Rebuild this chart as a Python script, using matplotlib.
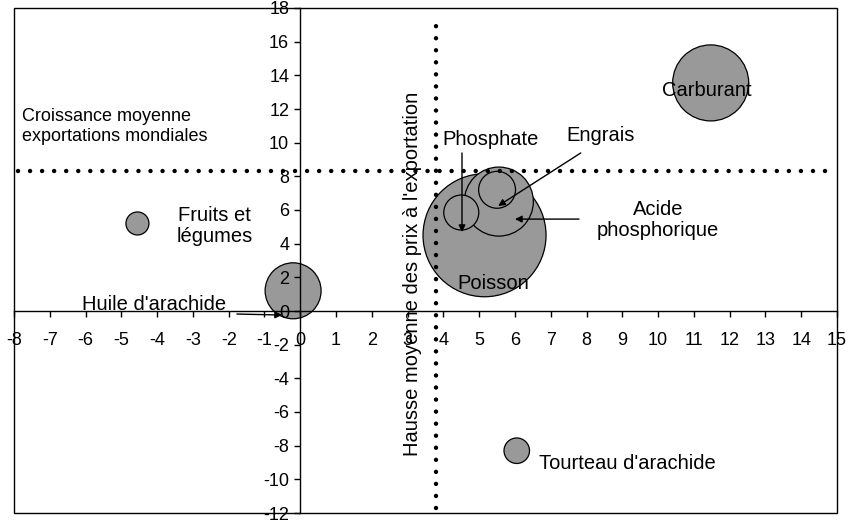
import matplotlib
matplotlib.use("Agg")
import matplotlib.pyplot as plt
from matplotlib.patches import Rectangle

plt.rcParams['font.family'] = ['Liberation Sans', 'DejaVu Sans']
plt.rcParams['axes.unicode_minus'] = False

# ---- data ----
products = ["Poisson", "Carburant", "Acide phosphorique", "Huile d'arachide",
            "Engrais", "Phosphate", "Tourteau d'arachide", "Fruits et légumes"]
export_growth = [5.15, 11.47, 5.55, -0.2, 5.5, 4.5, 6.05, -4.55]     # x
price_rise = [4.5, 13.55, 6.5, 1.2, 7.2, 5.85, -8.3, 5.2]            # y
bubble_size = [100, 38.2, 31.5, 20.7, 9.0, 8.1, 4.3, 3.5]

world_growth = 8.3      # croissance moyenne exportations mondiales
world_price = 3.8       # hausse moyenne des prix à l'exportation
hline_x = [-7.9, 14.9]
vline_y = [-11.7, 17.4]

x_ticks = list(range(-8, 16))
y_ticks = list(range(-12, 19, 2))

# labels: text, x, y
labels = [
    ("Carburant", 11.37, 13.07),
    ("Phosphate", 5.33, 10.16),
    ("Engrais", 8.40, 10.40),
    ("Acide\nphosphorique", 10.0, 5.41),
    ("Poisson", 5.39, 1.66),
    ("Fruits et\nlégumes", -2.39, 5.05),
    ("Huile d'arachide", -4.09, 0.36),
    ("Tourteau d'arachide", 9.13, -9.03),
]
# arrows: (x_from, y_from, x_to, y_to)
arrows = [
    (4.52, 9.39, 4.52, 4.69),
    (7.84, 9.39, 5.53, 6.24),
    (7.79, 5.46, 6.0, 5.46),
    (-1.77, -0.18, -0.51, -0.24),
]

# ---- figure ----
fig = plt.figure(figsize=(8.51, 5.2), dpi=100)
ax = fig.add_axes([14/851, 7/520, 823/851, 505/520])
ax.set_xlim(-8, 15)
ax.set_ylim(-12, 18)
ax.set_axisbelow(False)

scale = 78.43
sizes = [v * scale for v in bubble_size]
ax.scatter(export_growth, price_rise, s=sizes, c='#999999',
           edgecolors='black', linewidths=0.9, zorder=1.5)

dot = dict(color='black', lw=3.2, ls=(0, (0.01, 2.7)),
           dash_capstyle='round', zorder=3)
ax.plot(hline_x, [world_growth, world_growth], **dot)
ax.plot([world_price, world_price], vline_y, **dot)

for txt, x, y in labels:
    ax.text(x, y, txt, ha='center', va='center', fontsize=14.5,
            linespacing=1.1, zorder=5)

for x0, y0, x1, y1 in arrows:
    ax.annotate("", xy=(x1, y1), xytext=(x0, y0),
                arrowprops=dict(arrowstyle='-|>', color='black', lw=1,
                                mutation_scale=10, shrinkA=0, shrinkB=0),
                zorder=5)

ax.text(-7.77, 10.96, "Croissance moyenne\nexportations mondiales",
        ha='left', va='center', fontsize=13, linespacing=1.25)
ax.text(3.15, 2.2, "Hausse moyenne des prix à l'exportation",
        rotation=90, ha='center', va='center', fontsize=14.5, zorder=5)

# axes through origin
for s in ['top', 'right']:
    ax.spines[s].set_visible(False)
ax.spines['left'].set_position(('data', 0))
ax.spines['bottom'].set_position(('data', 0))
for s in ['left', 'bottom']:
    ax.spines[s].set_linewidth(1)
    ax.spines[s].set_zorder(2.5)
ax.add_patch(Rectangle((0, 0), 1, 1, transform=ax.transAxes, fill=False,
                       edgecolor='black', lw=1, clip_on=False, zorder=6))

ax.set_xticks(x_ticks)
ax.set_yticks(y_ticks)
ax.set_xticklabels([str(t) for t in x_ticks])
ax.set_yticklabels([str(t) for t in y_ticks])
ax.tick_params(axis='x', direction='out', length=4, width=1, pad=11, labelsize=13)
ax.tick_params(axis='y', direction='out', length=4, width=1, pad=4, labelsize=13)

fig.savefig("out.png", dpi=100)
